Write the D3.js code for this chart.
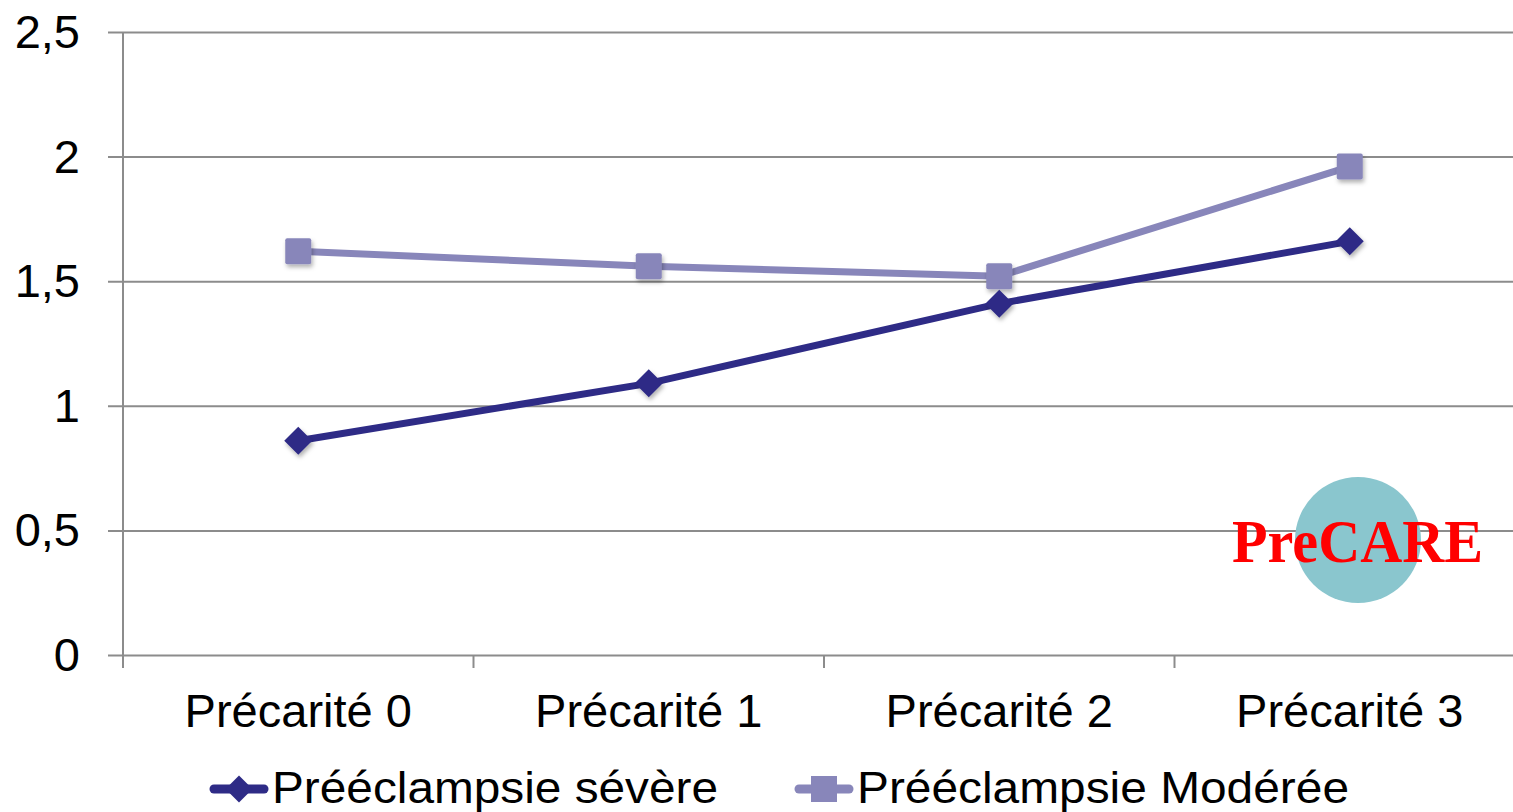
<!DOCTYPE html>
<html>
<head>
<meta charset="utf-8">
<script src="https://cdn.jsdelivr.net/npm/d3@7"></script>
<style>
  html, body { margin: 0; padding: 0; background: #fff; overflow: hidden; }
  svg { display: block; }
</style>
</head>
<body>
<svg id="chart" width="1513" height="812"></svg>
<script>
// Categories and values
const categories = ["Précarité 0", "Précarité 1", "Précarité 2", "Précarité 3"];
const severeValues = [0.86, 1.09, 1.41, 1.66];
const moderateValues = [1.62, 1.56, 1.52, 1.96];
const seriesNames = ["Prééclampsie sévère", "Prééclampsie Modérée"];
const yTicks = [0, 0.5, 1, 1.5, 2, 2.5];

const svg = d3.select("#chart");
const font = "'Liberation Sans', Arial, sans-serif";

const x = d3.scaleBand().domain(categories).range([123, 1525]).padding(0);
const y = d3.scaleLinear().domain([0, 2.5]).range([655, 32]);

// drop shadow for markers
const defs = svg.append("defs");
const f = defs.append("filter").attr("id", "shadow").attr("x", "-50%").attr("y", "-50%").attr("width", "200%").attr("height", "200%");
f.append("feDropShadow").attr("dx", 1.5).attr("dy", 3).attr("stdDeviation", 2).attr("flood-color", "#000").attr("flood-opacity", 0.3);

// horizontal gridlines
svg.append("g").selectAll("line").data(yTicks).join("line")
  .attr("x1", 108).attr("x2", 1513)
  .attr("y1", d => y(d) + 0.5).attr("y2", d => y(d) + 0.5)
  .attr("stroke", "#8c8c8c").attr("stroke-width", 2);

// y axis line
svg.append("line").attr("x1", 123).attr("x2", 123).attr("y1", y(2.5)).attr("y2", 668)
  .attr("stroke", "#8c8c8c").attr("stroke-width", 2);

// category boundary ticks
const bounds = categories.map(c => x(c));
svg.append("g").selectAll("line").data(bounds.slice(1)).join("line")
  .attr("x1", d => d).attr("x2", d => d).attr("y1", 655).attr("y2", 668)
  .attr("stroke", "#8c8c8c").attr("stroke-width", 2);

// y tick labels
svg.append("g").selectAll("text").data(yTicks).join("text")
  .attr("x", 80).attr("y", d => y(d) + 16)
  .attr("text-anchor", "end")
  .attr("font-family", font).attr("font-size", 47).attr("fill", "#000")
  .text(d => d3.format(".1~f")(d).replace(".", ","));

// category labels
svg.append("g").selectAll("text").data(categories).join("text")
  .attr("x", d => x(d) + x.bandwidth() / 2).attr("y", 727)
  .attr("text-anchor", "middle")
  .attr("font-family", font).attr("font-size", 47).attr("fill", "#000")
  .text(d => d);

// PreCARE logo
svg.append("circle").attr("cx", 1358).attr("cy", 540).attr("r", 63).attr("fill", "#8AC6CE");
svg.append("text").attr("x", 1232).attr("y", 562)
  .attr("textLength", 251).attr("lengthAdjust", "spacingAndGlyphs")
  .attr("font-family", "'Liberation Serif', 'DejaVu Serif', serif").attr("font-weight", "bold")
  .attr("font-size", 62).attr("fill", "#FF0000").text("PreCARE");

const colors = ["#2E2B86", "#8886BA"];
const line = d3.line().x((d, i) => x(categories[i]) + x.bandwidth() / 2).y(d => y(d));

const diamond = (cx, cy, r) => `M${cx},${cy - r}L${cx + r},${cy}L${cx},${cy + r}L${cx - r},${cy}Z`;

// moderate series
svg.append("path").datum(moderateValues).attr("d", line)
  .attr("fill", "none").attr("stroke", colors[1]).attr("stroke-width", 7);
svg.append("g").selectAll("rect").data(moderateValues).join("rect")
  .attr("x", (d, i) => x(categories[i]) + x.bandwidth() / 2 - 13)
  .attr("y", d => y(d) - 13).attr("width", 26).attr("height", 26).attr("rx", 2)
  .attr("fill", colors[1]).attr("filter", "url(#shadow)");

// severe series
svg.append("path").datum(severeValues).attr("d", line)
  .attr("fill", "none").attr("stroke", colors[0]).attr("stroke-width", 7);
svg.append("g").selectAll("path").data(severeValues).join("path")
  .attr("d", (d, i) => diamond(x(categories[i]) + x.bandwidth() / 2, y(d), 14))
  .attr("fill", colors[0]).attr("filter", "url(#shadow)");

// legend
const legendItems = [
  { name: seriesNames[0], color: colors[0], x0: 210, shape: "diamond", len: 446 },
  { name: seriesNames[1], color: colors[1], x0: 795, shape: "square", len: 492 }
];
const ly = 789;
legendItems.forEach(it => {
  const g = svg.append("g");
  g.append("line").attr("x1", it.x0 + 4).attr("x2", it.x0 + 54).attr("y1", ly).attr("y2", ly)
    .attr("stroke", it.color).attr("stroke-width", 9).attr("stroke-linecap", "round");
  if (it.shape === "diamond") {
    g.append("path").attr("d", diamond(it.x0 + 29, ly, 13.5)).attr("fill", it.color);
  } else {
    g.append("rect").attr("x", it.x0 + 29 - 13).attr("y", ly - 13).attr("width", 26).attr("height", 26).attr("fill", it.color);
  }
  g.append("text").attr("x", it.x0 + 62).attr("y", 803)
    .attr("textLength", it.len).attr("lengthAdjust", "spacingAndGlyphs")
    .attr("font-family", font).attr("font-size", 45).attr("fill", "#000").text(it.name);
});
</script>
</body>
</html>
